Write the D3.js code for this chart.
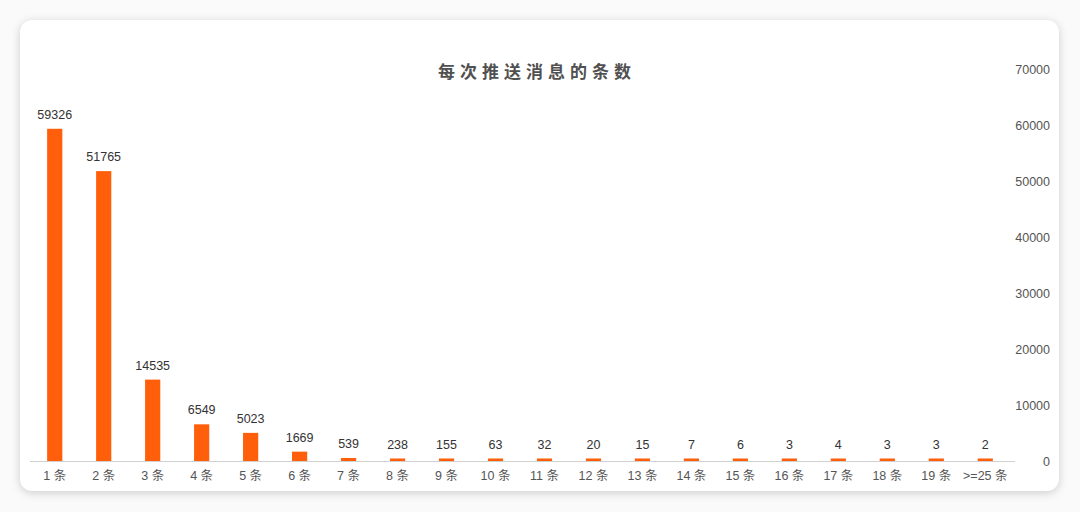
<!DOCTYPE html>
<html>
<head>
<meta charset="utf-8">
<script src="https://cdn.jsdelivr.net/npm/d3@7"></script>
<style>
  html, body { margin: 0; padding: 0; background: #fafafa; }
  #card {
    position: absolute; left: 20px; top: 20px; width: 1039px; height: 471px;
    background: #fff; border-radius: 12px;
    box-shadow: 0 2px 10px rgba(0,0,0,0.18);
  }
  svg { position: absolute; left: 0; top: 0; }
</style>
</head>
<body>
<div id="card"></div>
<script>
// 每次推送消息的条数
var categories = ["1 条", "2 条", "3 条", "4 条", "5 条", "6 条", "7 条", "8 条", "9 条", "10 条",
                  "11 条", "12 条", "13 条", "14 条", "15 条", "16 条", "17 条", "18 条", "19 条", ">=25 条"];
var counts = [59326, 51765, 14535, 6549, 5023, 1669, 539, 238, 155, 63,
              32, 20, 15, 7, 6, 3, 4, 3, 3, 2];
var yTicks = [0, 10000, 20000, 30000, 40000, 50000, 60000, 70000];
var title = "每次推送消息的条数";

var font = "'Helvetica Neue', Arial, 'Liberation Sans', 'Noto Sans CJK SC', sans-serif";

var svg = d3.select("body")
    .append("svg")
    .attr("width", 1080)
    .attr("height", 512)

var x = d3.scaleBand()
    .domain(categories)
    .range([30, 1010])
    .paddingInner(0.69)
    .paddingOuter(0.35)

var y = d3.scaleLinear()
    .domain([0, 70000])
    .range([461, 69])

// title
svg.append("text")
    .attr("x", 537)
    .attr("y", 78)
    .attr("text-anchor", "middle")
    .attr("font-family", "'Noto Sans CJK SC', sans-serif")
    .attr("font-weight", "bold")
    .attr("font-size", 17)
    .attr("letter-spacing", 5)
    .attr("fill", "#505050")
    .text(title)

// right value axis, labels only
var yAxis = d3.axisRight(y).tickValues(yTicks).tickSize(0).tickPadding(0).tickFormat(d3.format("d"))
svg.append("g")
    .attr("class", "y-axis")
    .attr("transform", "translate(1050,0)")
    .call(yAxis)
    .call(g => g.select(".domain").remove())
    .call(g => g.selectAll("text")
        .attr("text-anchor", "end")
        .attr("dy", "0.35em")
        .attr("fill", "#555")
        .attr("font-size", 12.5)
        .attr("font-family", font))

// bars
var minH = 2.5
svg.append("g")
    .selectAll("rect")
    .data(counts)
    .enter()
    .append("rect")
    .attr("x", (d, i) => x(categories[i]))
    .attr("width", x.bandwidth())
    .attr("y", d => Math.min(y(d), y(0) - minH))
    .attr("height", d => Math.max(y(0) - y(d), minH))
    .attr("fill", "#ff5e0a")

// value labels
svg.append("g")
    .selectAll("text")
    .data(counts)
    .enter()
    .append("text")
    .attr("x", (d, i) => x(categories[i]) + x.bandwidth() / 2)
    .attr("y", d => Math.min(y(d), y(0) - minH) - 10)
    .attr("text-anchor", "middle")
    .attr("font-size", 12.5)
    .attr("font-family", font)
    .attr("fill", "#333")
    .text(d => d)

// category axis
var xAxis = d3.axisBottom(x).tickSize(0).tickPadding(10)
svg.append("g")
    .attr("class", "x-axis")
    .attr("transform", "translate(0,461)")
    .call(xAxis)
    .call(g => g.select(".domain").attr("stroke", "#d0d0d0").attr("d", "M30,0.5H1015"))
    .call(g => g.selectAll("text")
        .attr("fill", "#555")
        .attr("font-size", 12.5)
        .attr("font-family", font))
</script>
</body>
</html>
